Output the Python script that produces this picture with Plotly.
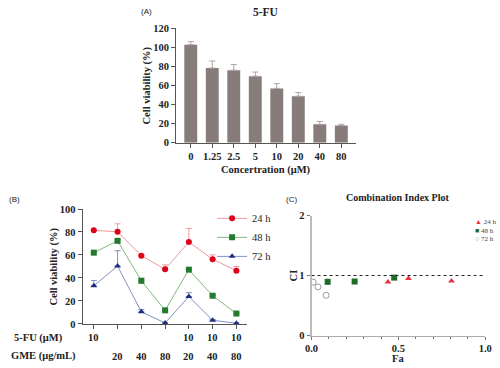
import plotly.graph_objects as go

# ---------------- data ----------------
# Panel A: 5-FU alone
conc_labels = ["0", "1.25", "2.5", "5", "10", "20", "40", "80"]
viab_a = [102.8, 78.3, 76.0, 69.8, 57.0, 48.8, 19.3, 18.0]
err_a = [3.2, 7.4, 6.0, 4.3, 5.0, 3.8, 3.0, 1.3]

# Panel B: combination
fu_labels = ["10", "", "", "", "10", "10", "10"]
gme_labels = ["", "20", "40", "80", "20", "40", "80"]
viab_24 = [81.4, 80.2, 59.4, 47.6, 71.3, 56.2, 46.3]
err_24 = [0.8, 6.9, 1.0, 3.8, 11.8, 3.9, 3.6]
viab_48 = [62.0, 72.3, 37.5, 11.8, 47.2, 24.5, 9.0]
err_48 = [0.6, 1.2, 2.2, 0.8, 0.8, 0.8, 0.5]
viab_72 = [33.2, 50.3, 10.5, 0.8, 23.8, 3.2, 0.5]
err_72 = [4.6, 13.4, 2.0, 0.5, 3.4, 0.5, 0.3]
time_labels = ["24 h", "48 h", "72 h"]

# Panel C: combination index
fa_24 = [0.44, 0.558, 0.806]
ci_24 = [0.89, 0.95, 0.91]
fa_48 = [0.093, 0.248, 0.476]
ci_48 = [0.895, 0.90, 0.965]
fa_72 = [0.010, 0.037, 0.084]
ci_72 = [0.89, 0.81, 0.67]
ci_threshold = 1

# ---------------- layout helpers ----------------
W, H = 500, 368
def px(x):
    return x / W
def py(y):
    return 1 - y / H

SERIF = "Liberation Serif"
tickfont = dict(family=SERIF, size=10.5, color="#222", weight="bold")

fig = go.Figure()

# Panel A bars
fig.add_trace(go.Bar(
    x=conc_labels, y=viab_a, xaxis="x", yaxis="y",
    marker=dict(color="#877c79", line=dict(width=0)), width=0.6,
    error_y=dict(type="data", array=err_a, arrayminus=[0] * len(err_a), symmetric=False,
                 color="#aaa4a2", thickness=1, width=3),
    showlegend=False,
))

# Panel B lines
idx = list(range(len(viab_24)))
series_b = [
    (viab_24, err_24, "#f29a9a", "#e0001a", "circle"),
    (viab_48, err_48, "#7fb87f", "#237a2e", "square"),
    (viab_72, err_72, "#8090c4", "#1d2c7c", "triangle-up"),
]
for (vals, errs, lc, mc, sym), name in zip(series_b, time_labels):
    fig.add_trace(go.Scatter(
        x=idx, y=vals, xaxis="x2", yaxis="y2", name=name, mode="lines+markers",
        line=dict(color=lc, width=1),
        marker=dict(color=mc, symbol=sym, size=6),
        error_y=dict(type="data", array=errs, arrayminus=[0] * len(errs), symmetric=False,
                     color=lc, thickness=1, width=3),
        cliponaxis=False, legend="legend",
    ))

# Panel C points
fig.add_trace(go.Scatter(x=fa_24, y=ci_24, xaxis="x3", yaxis="y3", mode="markers",
                         marker=dict(symbol="triangle-up", size=6, color="#e8333f"),
                         showlegend=False, cliponaxis=False))
fig.add_trace(go.Scatter(x=fa_48, y=ci_48, xaxis="x3", yaxis="y3", mode="markers",
                         marker=dict(symbol="square", size=6, color="#1e6b2a"),
                         showlegend=False, cliponaxis=False))
fig.add_trace(go.Scatter(x=fa_72, y=ci_72, xaxis="x3", yaxis="y3", mode="markers",
                         marker=dict(symbol="circle-open", size=6, color="#9a9aaa", line=dict(width=1)),
                         showlegend=False, cliponaxis=False))

axis_common = dict(showgrid=False, zeroline=False, showline=True, linecolor="#555", linewidth=1,
                   ticks="outside", ticklen=4, tickcolor="#555", tickfont=tickfont)

fig.update_layout(
    width=W, height=H, margin=dict(l=0, r=0, t=0, b=0),
    paper_bgcolor="white", plot_bgcolor="white",
    xaxis=dict(domain=[px(174), px(359)], anchor="y", type="category",
               range=[-0.68, 7.68], **axis_common),
    yaxis=dict(domain=[py(142), py(24)], anchor="x", range=[0, 120], dtick=20, **axis_common),
    xaxis2=dict(domain=[px(77.7), px(247)], anchor="y2", range=[-0.475, 6.45],
                tickvals=idx, showticklabels=False, **{k: v for k, v in axis_common.items() if k != "tickfont"}),
    yaxis2=dict(domain=[py(328.7), py(210.3)], anchor="x2", range=[0, 100], dtick=20, **axis_common),
    xaxis3=dict(domain=[px(313.3), px(492)], anchor="y3", range=[0, 1], tickvals=[0, 0.5, 1],
                tickformat=".1f", minor=dict(ticks="outside", dtick=0.1, ticklen=2, tickcolor="#777"),
                **{**axis_common, "linecolor": "#aaa", "tickcolor": "#777", "ticklen": 3}),
    yaxis3=dict(domain=[py(340.7), py(217)], anchor="x3", range=[0, 2], dtick=1,
                **{**axis_common, "linecolor": "#bbb", "linewidth": 2, "tickcolor": "#777", "ticklen": 3}),
    legend=dict(x=px(211), y=py(205), xanchor="left", yanchor="top",
                font=dict(family=SERIF, size=10.5, color="#222"), bgcolor="rgba(0,0,0,0)",
                itemwidth=30),
    shapes=[dict(type="line", xref="x3", yref="y3", x0=0, x1=0.99, y0=ci_threshold, y1=ci_threshold,
                 line=dict(color="#222", width=1.2, dash="dot"))],
)

ann = []
def text(x, y, s, size=10, bold=True, family=SERIF, angle=0, xanchor="center", color="#222"):
    ann.append(dict(x=px(x), y=py(y), xref="paper", yref="paper", text=s, showarrow=False,
                    xanchor=xanchor, yanchor="middle", textangle=angle,
                    font=dict(family=family, size=size, color=color, weight="bold" if bold else "normal")))

# Panel labels and titles
text(144, 7, "(A)", size=8, bold=False, family="Liberation Sans")
text(266, 7, "5-FU", size=11.5)
text(144, 83, "Cell viability (%)", size=10.5, angle=-90)
text(266, 170, "Concertration (μM)", size=10.5)
text(8, 201, "(B)", size=8, bold=False, family="Liberation Sans")
text(48, 270, "Cell viability (%)", size=10.5, angle=-90)
text(5, 343, "5-FU (μM)", size=10.5, xanchor="left")
text(2, 362, "GME (μg/mL)", size=10.5, xanchor="left")
text(293, 200, "(C)", size=8, bold=False, family="Liberation Sans")
text(402, 198, "Combination Index Plot", size=10)
text(295, 279, "CI", size=10.5, angle=-90)
text(402, 364, "Fa", size=10.5)

# Panel B two-row category labels
for i, (f, g) in enumerate(zip(fu_labels, gme_labels)):
    if f:
        ann.append(dict(x=i, y=py(343), xref="x2", yref="paper", text=f, showarrow=False,
                        yanchor="middle",
                        font=dict(family=SERIF, size=10.5, color="#222", weight="bold")))
    if g:
        ann.append(dict(x=i, y=py(362), xref="x2", yref="paper", text=g, showarrow=False,
                        yanchor="middle",
                        font=dict(family=SERIF, size=10.5, color="#222", weight="bold")))

# Panel C legend
c_leg = [("▲", "#e8333f"), ("■", "#1e6b2a"), ("○", "#9a9aaa")]
for k, ((glyph, col), lab) in enumerate(zip(c_leg, time_labels)):
    ann.append(dict(x=px(479), y=py(224 + 8.8 * k), xref="paper", yref="paper", showarrow=False,
                    xanchor="left", yanchor="middle",
                    text=f"<span style='color:{col}'>{glyph}</span> {lab}",
                    font=dict(family=SERIF, size=7, color="#444")))

fig.update_layout(annotations=ann)
fig.write_html("out.html", config={"displayModeBar": False},
               post_script="document.body.style.margin='0';document.body.style.overflow='hidden';")
